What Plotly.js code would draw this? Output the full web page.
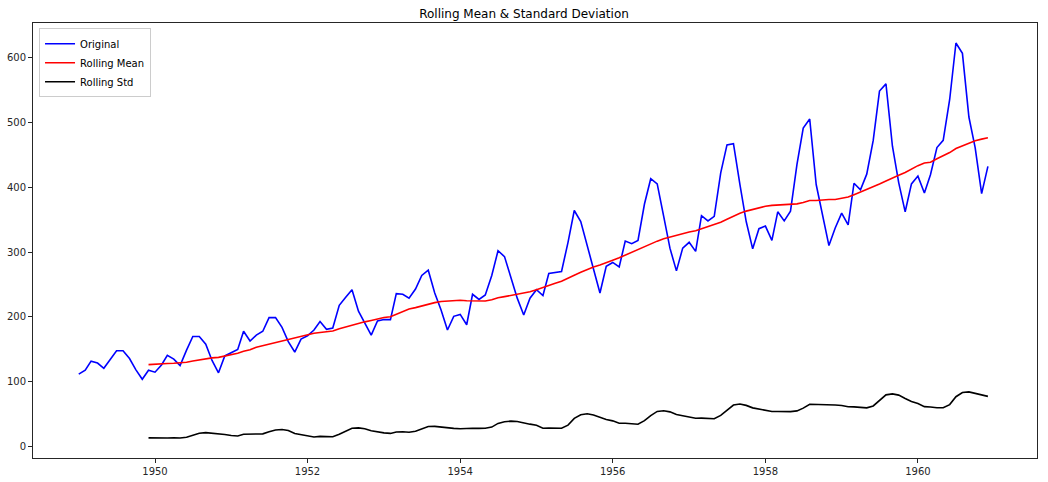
<!DOCTYPE html>
<html>
<head>
<meta charset="utf-8">
<script src="https://cdn.plot.ly/plotly-3.0.1.min.js"></script>
<style>html,body{margin:0;padding:0;background:#fff;}#chart{width:1048px;height:482px;}</style>
</head>
<body>
<div id="chart"></div>
<script>
// Monthly passengers, Jan 1949 .. Dec 1960
const years = [1949,1950,1951,1952,1953,1954,1955,1956,1957,1958,1959,1960];
const passengers = [
  112,118,132,129,121,135,148,148,136,119,104,118,
  115,126,141,135,125,149,170,170,158,133,114,140,
  145,150,178,163,172,178,199,199,184,162,146,166,
  171,180,193,181,183,218,230,242,209,191,172,194,
  196,196,236,235,229,243,264,272,237,211,180,201,
  204,188,235,227,234,264,302,293,259,229,203,229,
  242,233,267,269,270,315,364,347,312,274,237,278,
  284,277,317,313,318,374,413,405,355,306,271,306,
  315,301,356,348,355,422,465,467,404,347,305,336,
  340,318,362,348,363,435,491,505,404,359,310,337,
  360,342,406,396,420,472,548,559,463,407,362,405,
  417,391,419,461,472,535,622,606,508,461,390,432
];
const windowSize = 12;
const tickVals = ['1950-01-01','1952-01-01','1954-01-01','1956-01-01','1958-01-01','1960-01-01'];
const tickText = ['1950','1952','1954','1956','1958','1960'];

const dates = [];
years.forEach(y => { for (let m = 1; m <= 12; m++) dates.push(y + '-' + String(m).padStart(2,'0') + '-01'); });

// 12-month rolling mean / sample std of the original series
const rollMean = [], rollStd = [];
for (let i = 0; i < passengers.length; i++) {
  if (i < windowSize - 1) { rollMean.push(null); rollStd.push(null); continue; }
  const w = passengers.slice(i - windowSize + 1, i + 1);
  const mu = w.reduce((a,b)=>a+b,0) / windowSize;
  const v = w.reduce((a,b)=>a+(b-mu)*(b-mu),0) / (windowSize - 1);
  rollMean.push(mu); rollStd.push(Math.sqrt(v));
}

const traces = [
  {x: dates, y: passengers, type:'scatter', mode:'lines', name:'Original', line:{color:'#0000ff', width:1.6}},
  {x: dates, y: rollMean, type:'scatter', mode:'lines', name:'Rolling Mean', line:{color:'#ff0000', width:1.6}},
  {x: dates, y: rollStd, type:'scatter', mode:'lines', name:'Rolling Std', line:{color:'#000000', width:1.6}}
];

const axisCommon = {
  showgrid:false, zeroline:false, showline:true, mirror:true, linecolor:'#262626', linewidth:1,
  ticks:'outside', ticklen:4, tickwidth:1, tickcolor:'#262626',
  tickfont:{family:'DejaVu Sans', size:10, color:'#262626'}
};

const layout = {
  width:1048, height:482,
  margin:{l:33, r:11, t:23, b:24, pad:0},
  paper_bgcolor:'#fff', plot_bgcolor:'#fff',
  title:{text:'Rolling Mean & Standard Deviation', font:{family:'DejaVu Sans', size:12, color:'#000'}, x:0.5, xanchor:'center', y:0.972, yanchor:'middle'},
  xaxis: Object.assign({}, axisCommon, {type:'date', range:['1948-05-27','1961-07-24'], tickvals:tickVals, ticktext:tickText}),
  yaxis: Object.assign({}, axisCommon, {range:[-17.2, 652.8], tickvals:[0,100,200,300,400,500,600], ticktext:['0','100','200','300','400','500','600']}),
  showlegend:true,
  legend:{x:0.006, y:0.988, xanchor:'left', yanchor:'top', bgcolor:'rgba(255,255,255,0.8)', bordercolor:'#cccccc', borderwidth:1,
          font:{family:'DejaVu Sans', size:10, color:'#000'}, tracegroupgap:0, itemwidth:30}
};

Plotly.newPlot('chart', traces, layout, {staticPlot:true, displayModeBar:false});
</script>
</body>
</html>
